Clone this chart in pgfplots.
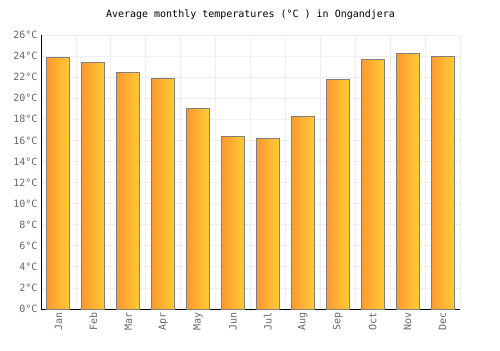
\documentclass[border=0pt]{standalone}
\usepackage{pgfplots}
\pgfplotsset{compat=1.18}
\usepackage{fontspec}
\setmainfont{DejaVu Sans Mono}
\definecolor{barleft}{RGB}{255,152,48}
\definecolor{barright}{RGB}{255,204,52}
\definecolor{tickgray}{RGB}{102,102,102}
\definecolor{gridgray}{RGB}{238,238,238}
\pgfplotsset{tbar/.style={ybar, bar width=23bp, draw=gray, line width=1bp, left color=barleft, right color=barright}}
\begin{document}
\begin{tikzpicture}[x=1bp,y=1bp]
\useasboundingbox (0,0) rectangle (500,350);
\begin{axis}[
  at={(41bp,41bp)}, anchor=south west,
  scale only axis, width=419bp, height=274bp,
  xmin=-0.5, xmax=11.5, ymin=0, ymax=26,
  xtick={0,...,11},
  xticklabels={Jan,Feb,Mar,Apr,May,Jun,Jul,Aug,Sep,Oct,Nov,Dec},
  minor xtick={-0.5,0.5,...,11.5},
  ytick={0,2,...,26},
  yticklabels={0°C,2°C,4°C,6°C,8°C,10°C,12°C,14°C,16°C,18°C,20°C,22°C,24°C,26°C},
  xminorgrids=true, ymajorgrids=true,
  grid style={gridgray, line width=0.8bp},
  minor grid style={gridgray, line width=0.8bp},
  axis x line*=bottom, axis y line*=left,
  axis line style={black, line width=1bp, -},
  major tick length=0pt, minor tick length=0pt,
  tick label style={font=\fontsize{10bp}{12bp}\selectfont, text=tickgray},
  xticklabel style={rotate=90, anchor=east},
  /pgf/number format/assume math mode=true,
  title={Average monthly temperatures (°C ) in Ongandjera},
  title style={font=\fontsize{10bp}{12bp}\selectfont, at={(0.5,1)}, yshift=6bp},
  clip=false,
]
\addplot[tbar] coordinates {(0,23.9)};
\addplot[tbar] coordinates {(1,23.4)};
\addplot[tbar] coordinates {(2,22.4)};
\addplot[tbar] coordinates {(3,21.9)};
\addplot[tbar] coordinates {(4,19.0)};
\addplot[tbar] coordinates {(5,16.4)};
\addplot[tbar] coordinates {(6,16.2)};
\addplot[tbar] coordinates {(7,18.3)};
\addplot[tbar] coordinates {(8,21.8)};
\addplot[tbar] coordinates {(9,23.7)};
\addplot[tbar] coordinates {(10,24.2)};
\addplot[tbar] coordinates {(11,24.0)};
\end{axis}
\end{tikzpicture}
\end{document}
